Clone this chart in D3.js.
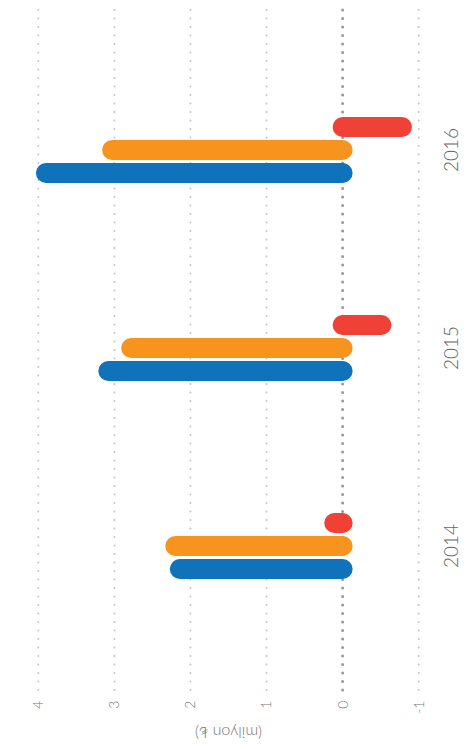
<!DOCTYPE html>
<html>
<meta charset="utf-8">
<title>milyon TL</title>
<style>
body {
  margin: 0;
  background: #fff;
  font-family: Lato, "Open Sans", sans-serif;
}
.grid line {
  fill: none;
  stroke-linecap: round;
}
.bar {
  stroke-linecap: round;
}
text {
  font-weight: 300;
}
</style>
<body>
<div id="chart"></div>
<script src="https://d3js.org/d3.v7.min.js"></script>
<script>

var years = ["2014", "2015", "2016"];
var seriesNames = ["mavi", "turuncu", "kırmızı"];
var blueValues = [2.14, 3.08, 3.90];
var orangeValues = [2.20, 2.78, 3.03];
var redValues = [0.11, -0.51, -0.78];
var tickValues = [-1, 0, 1, 2, 3, 4];
var tickLabels = ["-1", "0", "1", "2", "3", "4"];
var axisTitle = "(milyon ₺)";

var colors = ["#1072ba", "#f7941d", "#ef4136"];

// chart is drawn as a column chart, then turned a quarter left
var W = 749, H = 466;

var svg = d3.select("#chart").append("svg")
  .attr("width", 466)
  .attr("height", 749);

var g = svg.append("g")
  .attr("transform", "translate(0," + W + ") rotate(-90)");

var x = d3.scaleBand()
  .domain(years)
  .range([104, 698]);

var x1 = d3.scaleBand()
  .domain(seriesNames)
  .range([x.bandwidth() / 2 - 34.5, x.bandwidth() / 2 + 34.5]);

var y = d3.scaleLinear()
  .domain([-1, 4])
  .range([418.7, 38.3]);

var grid = g.append("g").attr("class", "grid");

grid.selectAll("line")
  .data(tickValues)
  .enter().append("line")
  .attr("x1", 59)
  .attr("x2", 744)
  .attr("y1", function(d) { return y(d); })
  .attr("y2", function(d) { return y(d); })
  .style("stroke", function(d) { return d === 0 ? "#999" : "#c4c4c4"; })
  .style("stroke-width", function(d) { return d === 0 ? 3 : 2; })
  .style("stroke-dasharray", "0,8.5");

g.append("g").selectAll("text")
  .data(tickValues)
  .enter().append("text")
  .attr("x", 48.5)
  .attr("y", function(d) { return y(d); })
  .attr("dy", "0.35em")
  .attr("text-anchor", "end")
  .style("font-size", "14px")
  .style("fill", "#777")
  .text(function(d, i) { return tickLabels[i]; });

g.append("text")
  .attr("transform", "translate(16," + y(1.5) + ") rotate(-90)")
  .attr("dy", "0.35em")
  .attr("text-anchor", "middle")
  .style("font-size", "16px")
  .style("fill", "#777")
  .text(axisTitle);

var rows = years.map(function(yr, i) {
  return [blueValues[i], orangeValues[i], redValues[i]];
});

var groups = g.append("g").selectAll("g")
  .data(rows)
  .enter().append("g")
  .attr("transform", function(d, i) { return "translate(" + x(years[i]) + ",0)"; });

groups.selectAll("line")
  .data(function(d) { return d; })
  .enter().append("line")
  .attr("class", "bar")
  .attr("x1", function(d, j) { return x1(seriesNames[j]) + x1.bandwidth() / 2; })
  .attr("x2", function(d, j) { return x1(seriesNames[j]) + x1.bandwidth() / 2; })
  .attr("y1", y(0))
  .attr("y2", function(d) { return y(d); })
  .style("stroke", function(d, j) { return colors[j]; })
  .style("stroke-width", 20);

g.append("g").selectAll("text")
  .data(years)
  .enter().append("text")
  .attr("x", function(d) { return x(d) + x.bandwidth() / 2; })
  .attr("y", 458)
  .attr("text-anchor", "middle")
  .style("font-size", "19px")
  .style("fill", "#666")
  .text(function(d) { return d; });

</script>
</body>
</html>
